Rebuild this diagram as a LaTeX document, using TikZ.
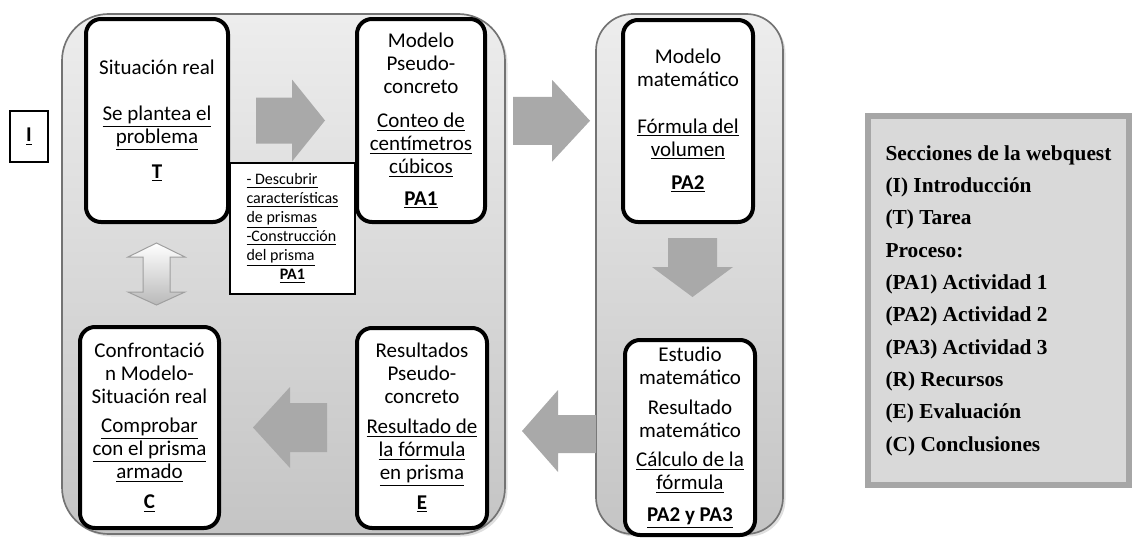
\documentclass[tikz,border=0pt]{standalone}
\usepackage{fontspec}
\setmainfont{Carlito}
\newfontfamily\legendfont{Liberation Serif}
\usetikzlibrary{calc,shadows}

\definecolor{arrowgray}{RGB}{169,169,169}
\definecolor{legendfill}{RGB}{217,217,217}
\definecolor{legendline}{RGB}{166,166,166}

\tikzset{
  panel/.style={draw=black!55, line width=1pt, top color=gray!14, bottom color=gray!46,
    drop shadow={opacity=0.25, shadow xshift=1.5pt, shadow yshift=-1.5pt}},
  stagebox/.style={draw, line width=2.4pt, rounded corners=9pt, fill=white, align=center,
    inner sep=2pt, font=\fontsize{12.6}{13.8}\selectfont,
    drop shadow={opacity=0.2, shadow xshift=1pt, shadow yshift=-1pt}},
  notebox/.style={draw, line width=0.7pt, fill=white, align=left, minimum width=75pt,
    minimum height=78.6pt, font=\fontsize{9.6}{11.4}\selectfont},
  blockarrow/.style={fill=arrowgray},
  twoway/.style={draw=gray!75, line width=0.6pt, top color=white, bottom color=gray!55},
  legendbox/.style={draw=legendline, line width=3.6pt, fill=legendfill, align=left,
    minimum width=156.6pt, minimum height=221.4pt,
    font=\legendfont\bfseries\fontsize{12.8}{19.4}\selectfont}
}

\begin{document}
\begin{tikzpicture}[x=0.6pt,y=-0.6pt]
  \useasboundingbox (0,0) rectangle (1136,537);

  % background panels
  \path[panel, rounded corners=28pt] (62,14) rectangle (505,534);
  \path[panel, rounded corners=22pt] (596,14) rectangle (783,534);

  % stages
  \node[stagebox, minimum width=85.2pt, minimum height=121.8pt] (real) at (157,120.5)
    {Situación real\\[14pt]\underline{Se plantea el}\\\underline{problema}\\[7pt]\underline{\textbf{T}}};
  \node[stagebox, minimum width=76.8pt, minimum height=121.8pt] (pseudo) at (421,120.5)
    {Modelo\\Pseudo-\\concreto\\[7pt]\underline{Conteo de}\\\underline{centímetros}\\\underline{cúbicos}\\[5pt]\underline{\textbf{PA1}}};
  \node[stagebox, minimum width=78pt, minimum height=121.2pt] (matmodel) at (688,121)
    {Modelo\\matemático\\[14pt]\underline{Fórmula del}\\\underline{volumen}\\[6pt]\underline{\textbf{PA2}}};
  \node[stagebox, minimum width=83.4pt, minimum height=120.6pt] (confront) at (149.5,427.5)
    {Confrontació\\n Modelo-\\Situación real\\[4pt]\underline{Comprobar}\\\underline{con el prisma}\\\underline{armado}\\[4pt]\underline{\textbf{C}}};
  \node[stagebox, minimum width=78pt, minimum height=120pt] (results) at (422,428)
    {Resultados\\Pseudo-\\concreto\\[4pt]\underline{Resultado de}\\\underline{la fórmula}\\\underline{en prisma}\\[4pt]\underline{\textbf{E}}};
  \node[stagebox, minimum width=78pt, minimum height=117pt] (study) at (690,437.5)
    {Estudio\\matemático\\[4pt]Resultado\\matemático\\[4pt]\underline{Cálculo de la}\\\underline{fórmula}\\[5pt]\underline{\textbf{PA2 y PA3}}};

  \node[notebox] (discover) at (292.5,228.5)
    {\underline{- Descubrir}\\\underline{características}\\\underline{de prismas}\\\underline{-Construcción}\\\underline{del prisma}\\\makebox[55pt]{\underline{\textbf{PA1}}}};
  \node[draw, line width=0.8pt, fill=white, minimum width=22.8pt, minimum height=30.6pt,
    font=\fontsize{12.6}{13.8}\selectfont] (intro) at (29,136.5) {\underline{\textbf{I}}};

  % block arrows between the stages
  \fill[blockarrow] ($(real.east)!0.5!(pseudo.west)$) ++(-36.5,-23) -- ++(36,0) -- ++(0,-18)
    -- ++(33,41) -- ++(-33,41) -- ++(0,-18) -- ++(-36,0) -- cycle;
  \fill[blockarrow] ($(pseudo.east)!0.5!(matmodel.west)$) ++(-41,-24) -- ++(39,0) -- ++(0,-17)
    -- ++(38,41) -- ++(-38,41) -- ++(0,-17) -- ++(-39,0) -- cycle;
  \fill[blockarrow] ($(matmodel.south)!0.5!(study.north)$) ++(-21,-43) -- ++(49,0) -- ++(0,29)
    -- ++(16,0) -- ++(-40.5,30) -- ++(-40.5,-30) -- ++(16,0) -- cycle;
  \fill[blockarrow] ($(results.east)!0.5!(study.west)$) ++(40,-17.75) -- ++(-38,0) -- ++(0,-25)
    -- ++(-36,41) -- ++(36,41) -- ++(0,-19) -- ++(38,0) -- cycle;
  \fill[blockarrow] ($(confront.east)!0.5!(results.west)$) ++(39,-24.75) -- ++(-37,0) -- ++(0,-16)
    -- ++(-37,40.5) -- ++(37,40.5) -- ++(0,-16) -- ++(37,0) -- cycle;
  \path[twoway] ($(real.south)!0.5!(confront.north)$) ++(3.25,-31.5) -- ++(28.5,14) -- ++(-15,0)
    -- ++(0,35) -- ++(15,0) -- ++(-28.5,13) -- ++(-28.5,-13) -- ++(15,0) -- ++(0,-35)
    -- ++(-15,0) -- cycle;

  % legend
  \node[legendbox] (sections) at (998.5,300.5)
    {Secciones de la webquest\\(I) Introducción\\(T) Tarea\\Proceso:\\(PA1) Actividad 1\\(PA2) Actividad 2\\(PA3) Actividad 3\\(R) Recursos\\(E) Evaluación\\(C) Conclusiones};
\end{tikzpicture}
\end{document}
